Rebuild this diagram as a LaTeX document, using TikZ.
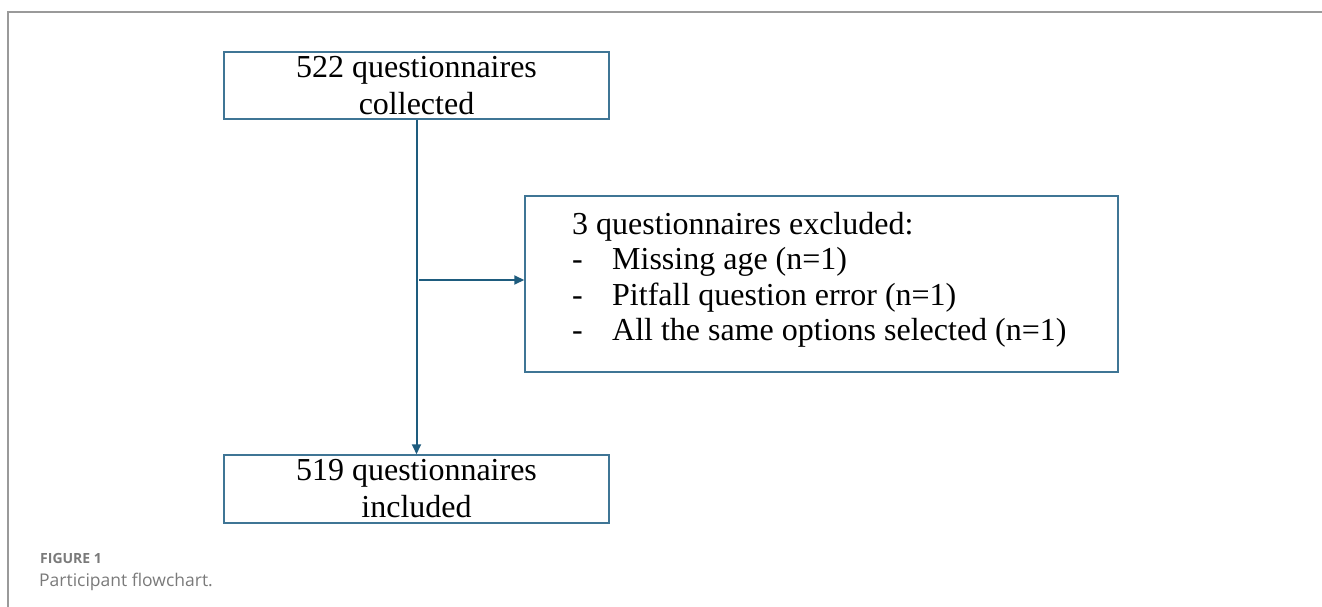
\documentclass[tikz,border=0pt]{standalone}
\usepackage{fontspec}
\setmainfont{Liberation Serif}
\newfontfamily\capfont{Open Sans}
\usetikzlibrary{arrows.meta}
\definecolor{boxc}{HTML}{3F7595}
\definecolor{linec}{HTML}{1E5C7E}
\definecolor{framec}{HTML}{9A9A9A}
\definecolor{capc}{HTML}{7A7A7A}
\begin{document}
\begin{tikzpicture}[x=1pt,y=-1pt,
  box/.style={draw=boxc, line width=1.5pt, inner sep=0pt, font=\fontsize{32}{37}\selectfont},
  txt/.style={inner sep=0pt, font=\fontsize{32}{35.5}\selectfont},
  conn/.style={draw=linec, line width=2pt, -{Triangle[length=10pt,width=9pt]}},
  captxt/.style={inner sep=0pt, anchor=base west, text=capc}]
\useasboundingbox (0,0) rectangle (1322,607);
\draw[framec, line width=1.5pt] (1322,12) -- (8,12) -- (8,607);
\node[box, minimum width=385pt, minimum height=67pt, align=center] (top) at (416.5,85.5) {522 questionnaires\\collected};
\node[box, minimum width=385pt, minimum height=68pt, align=center] (bot) at (416.5,489) {519 questionnaires\\included};
\node[box, minimum width=593pt, minimum height=176pt] (exc) at (821.5,284) {};
\node[txt, anchor=north west, align=left] (exctxt) at (572,212)
  {3 questionnaires excluded:\\
   \makebox[40pt][l]{-}Missing age (n=1)\\
   \makebox[40pt][l]{-}Pitfall question error (n=1)\\
   \makebox[40pt][l]{-}All the same options selected (n=1)};
\draw[conn] (top.south) -- (bot.north);
\coordinate (br) at (419,280);
\draw[conn] (br) -- (br -| exc.west);
\node[captxt, font=\capfont\bfseries\fontsize{14}{16}\selectfont] (fig) at (40,563) {FIGURE 1};
\node[captxt, font=\capfont\fontsize{17.5}{20}\selectfont] (cap) at (39,586) {Participant flowchart.};
\end{tikzpicture}
\end{document}
